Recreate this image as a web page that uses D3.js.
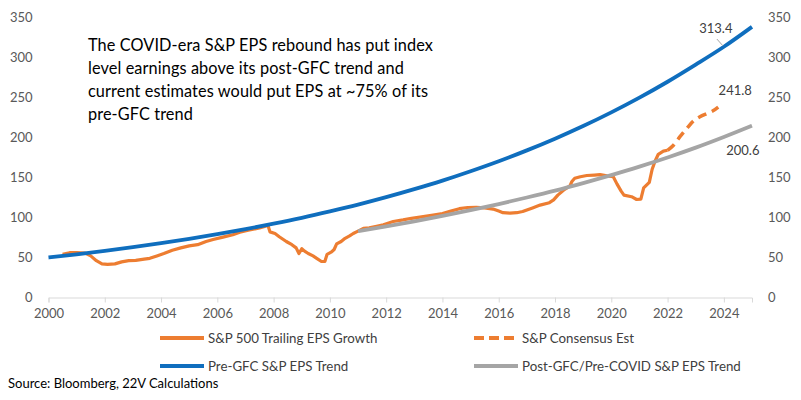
<!DOCTYPE html>
<html><head><meta charset="utf-8">
<script src="https://cdn.jsdelivr.net/npm/d3@7/dist/d3.min.js"></script>
<style>
html,body{margin:0;padding:0;background:#fff;}
svg{display:block;font-family:Lato,"Open Sans",sans-serif;}
</style></head><body>
<svg id="c" width="801" height="400"></svg>
<script>
// ---- data ----
const yTicks = [0,50,100,150,200,250,300,350];
const xTicks = [2000,2002,2004,2006,2008,2010,2012,2014,2016,2018,2020,2022,2024];

const trailingYears = [2000.5,2000.75,2001.0,2001.3,2001.5,2001.7,2001.9,2002.1,2002.36,2002.6,2002.85,2003.1,2003.4,2003.6,2003.85,2004.1,2004.4,2004.7,2005.0,2005.3,2005.6,2005.85,2006.2,2006.55,2006.8,2007.1,2007.5,2007.8,2007.87,2008.05,2008.2,2008.45,2008.65,2008.8,2008.9,2009.0,2009.1,2009.23,2009.4,2009.53,2009.7,2009.82,2009.9,2010.06,2010.15,2010.24,2010.4,2010.54,2010.7,2010.83,2011.0,2011.19,2011.4,2011.66,2011.9,2012.25,2012.6,2012.9,2013.2,2013.67,2014.0,2014.3,2014.6,2014.9,2015.2,2015.5,2015.8,2016.0,2016.15,2016.4,2016.64,2016.85,2017.0,2017.2,2017.47,2017.8,2017.95,2018.1,2018.3,2018.53,2018.6,2018.7,2018.9,2019.13,2019.4,2019.6,2019.85,2020.07,2020.2,2020.35,2020.45,2020.72,2020.9,2021.05,2021.15,2021.35,2021.45,2021.55,2021.67,2021.85,2022.0];
const trailingEPS = [54,56,56,55.5,52,46,42,41.5,42,44.5,46,46.5,48,49,52,55,59,62,64.5,66,70,72.5,75.5,78.5,81.5,84,87,90,82,80,76,70,66,62,55,61,58,55,52,49,45,45,54,57,60,67,70,74,77,80,83,86.5,87,89,91,95,97,99,100.5,103,105,108,111,112.5,112.7,112,110.5,108,106,105.5,106,107.5,109.5,112,115.5,118.5,122,128,134,139.5,145,149,151,152.5,153,153.5,152,151,142,133,128,126,122.5,123,137,144,160,170,179,183,184];

const consensusYears = [2022.0,2022.2,2022.44,2022.7,2022.9,2023.15,2023.4,2023.6,2023.8];
const consensusEPS = [184,190,201,212,220,226,230,233,238];

const preGfcYears = [2000,2001,2002,2003,2004,2005,2006,2007,2008,2009,2010,2011,2012,2013,2014,2015,2016,2017,2018,2019,2020,2021,2022,2023,2024,2025];
const preGfcEPS = [50,54.0,58.3,62.9,67.9,73.3,79.2,85.5,92.3,99.6,107.6,116.1,125.4,135.4,146.1,157.8,170.3,183.9,198.5,214.3,231.4,249.8,269.7,291.1,313.4,338.3];

const postGfcYears = [2011,2012,2013,2014,2015,2016,2017,2018,2019,2020,2021,2022,2023,2024,2025];
const postGfcEPS = [83.0,88.9,95.2,101.9,109.1,116.8,125.0,133.6,143.0,153.0,163.6,175.0,187.3,200.6,214.7];

const annotation = ["The COVID-era S&P EPS rebound has put index","level earnings above its post-GFC trend and","current estimates would put EPS at ~75% of its","pre-GFC trend"];
const legendLabels = ["S&P 500 Trailing EPS Growth","S&P Consensus Est","Pre-GFC S&P EPS Trend","Post-GFC/Pre-COVID S&P EPS Trend"];
const sourceText = "Source: Bloomberg, 22V Calculations";

// ---- drawing ----
const svg = d3.select("#c");
const x = d3.scaleLinear().domain([2000,2025]).range([48.5,752]);
const y = d3.scaleLinear().domain([0,350]).range([297.5,17.5]);
const ORANGE="#ED7D31", BLUE="#0F6EBE", GRAY="#A5A5A5", TXT="#595959";

// x axis
const xAxis = d3.axisBottom(x).tickValues(xTicks).tickFormat(d3.format("d")).tickSize(5).tickPadding(6);
const gx = svg.append("g").attr("transform",`translate(0,${y(0)})`).call(xAxis);
gx.select(".domain").attr("stroke","#D9D9D9");
gx.selectAll(".tick line").attr("stroke","#D9D9D9");
gx.selectAll("text").attr("fill",TXT).style("font-size","13px").style("font-family","Lato");

// y axes
const yl = d3.axisLeft(y).tickValues(yTicks).tickSize(0).tickPadding(16);
const gyl = svg.append("g").attr("transform",`translate(${x(2000)},0)`).call(yl);
gyl.select(".domain").remove();
gyl.selectAll("text").attr("fill",TXT).style("font-size","13px").style("font-family","Lato");
const yr = d3.axisRight(y).tickValues(yTicks).tickSize(0).tickPadding(16);
const gyr = svg.append("g").attr("transform",`translate(${x(2025)},0)`).call(yr);
gyr.select(".domain").remove();
gyr.selectAll("text").attr("fill",TXT).style("font-size","13px").style("font-family","Lato");

const line = d3.line().x(d=>x(d[0])).y(d=>y(d[1]));
const smooth = d3.line().x(d=>x(d[0])).y(d=>y(d[1])).curve(d3.curveMonotoneX);
const zip = (a,b)=>a.map((v,i)=>[v,b[i]]);

svg.append("path").attr("d",line(zip(trailingYears,trailingEPS))).attr("fill","none").attr("stroke",ORANGE).attr("stroke-width",3.2).attr("stroke-linejoin","round");
svg.append("path").attr("d",smooth(zip(consensusYears,consensusEPS))).attr("fill","none").attr("stroke",ORANGE).attr("stroke-width",3.5).attr("stroke-dasharray","9,6");
svg.append("path").attr("d",smooth(zip(preGfcYears,preGfcEPS))).attr("fill","none").attr("stroke",BLUE).attr("stroke-width",3.8);
svg.append("path").attr("d",smooth(zip(postGfcYears,postGfcEPS))).attr("fill","none").attr("stroke",GRAY).attr("stroke-width",3.8);

// data labels
const lbl = (t,xx,yy)=>svg.append("text").attr("x",xx).attr("y",yy).attr("text-anchor","middle").attr("dominant-baseline","central").attr("fill","#404040").style("font-size","13px").text(t);
lbl(preGfcEPS[24].toFixed(1), x(2024)-8, 28);
svg.append("line").attr("x1",x(2024)-7).attr("y1",39).attr("x2",x(2024)-1).attr("y2",y(preGfcEPS[24])-1).attr("stroke","#A6A6A6").attr("stroke-width",1);
lbl("241.8", x(2023.8)+17, 90);
lbl(postGfcEPS[13].toFixed(1), x(2024)+19, 150);

// annotation
svg.append("g").selectAll("text").data(annotation).join("text")
  .attr("x",88).attr("y",(d,i)=>51+i*23).attr("fill","#000").style("font-size","16.3px").style("letter-spacing","0.1px").text(d=>d);

// legend
const leg = [
  {x:160,y:338,c:ORANGE,dash:null,t:legendLabels[0]},
  {x:474,y:338,c:ORANGE,dash:"10,5",t:legendLabels[1]},
  {x:160,y:366,c:BLUE,dash:null,t:legendLabels[2]},
  {x:474,y:366,c:GRAY,dash:null,t:legendLabels[3]}];
const lg = svg.append("g").selectAll("g").data(leg).join("g").attr("transform",d=>`translate(${d.x},${d.y})`);
lg.append("line").attr("x1",0).attr("x2",44).attr("stroke",d=>d.c).attr("stroke-width",3.8).attr("stroke-dasharray",d=>d.dash);
lg.append("text").attr("x",48).attr("dominant-baseline","central").attr("fill","#404040").style("font-size","13.3px").text(d=>d.t);

svg.append("text").attr("x",8).attr("y",383).attr("dominant-baseline","central").attr("fill","#000").style("font-size","13px").text(sourceText);
</script>
</body></html>
